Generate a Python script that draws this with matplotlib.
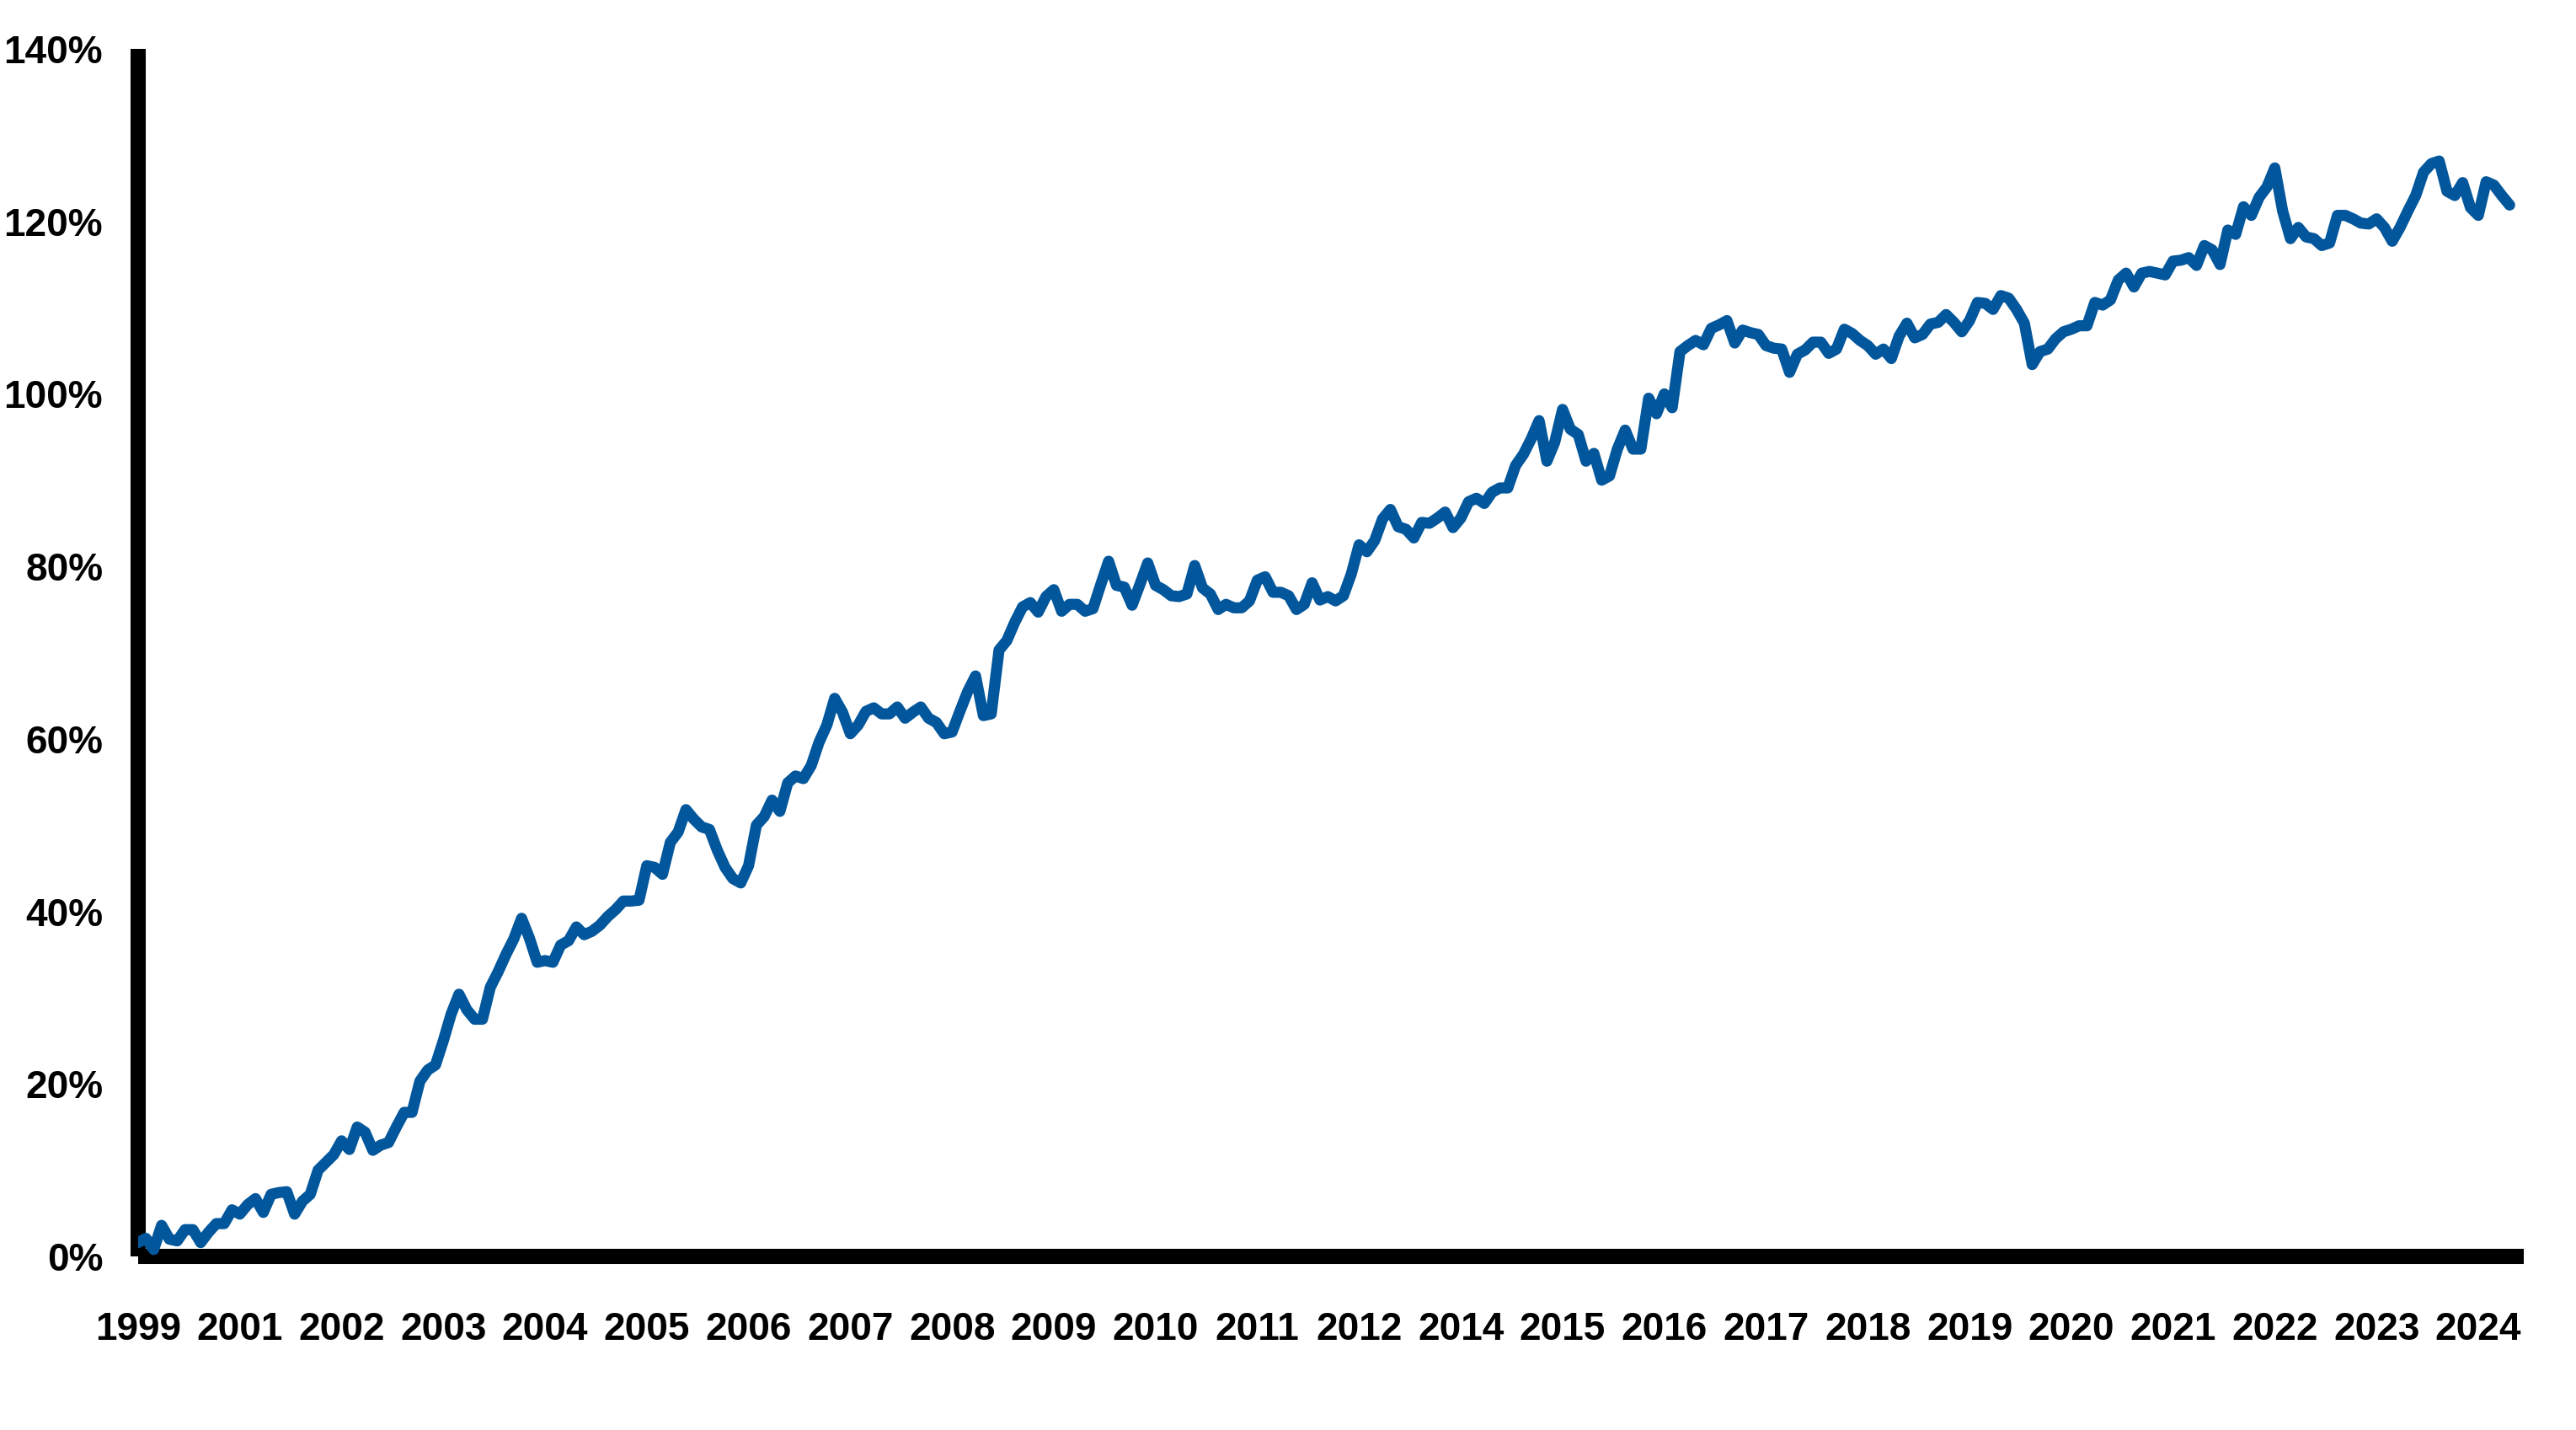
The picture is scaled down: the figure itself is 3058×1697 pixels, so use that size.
import matplotlib
matplotlib.use("Agg")
import matplotlib.pyplot as plt
import numpy as np

plt.rcParams["font.family"] = ["Liberation Sans", "DejaVu Sans"]
plt.rcParams["font.weight"] = "bold"

# monthly series, first point Dec 1999 (values in %)
values = [
    1.6, 2.1, 0.8, 3.6, 2.0, 1.8, 3.1, 3.1, 1.6, 2.8,
    3.8, 3.8, 5.4, 4.9, 6.0, 6.7, 5.1, 7.2, 7.4, 7.5,
    4.9, 6.4, 7.2, 10.0, 10.9, 11.8, 13.4, 12.4, 15.0, 14.4,
    12.3, 12.9, 13.2, 15.0, 16.7, 16.7, 20.3, 21.6, 22.2, 25.0,
    28.1, 30.4, 28.6, 27.5, 27.5, 31.2, 33.0, 35.0, 36.8, 39.2,
    36.9, 34.1, 34.3, 34.1, 36.1, 36.6, 38.2, 37.3, 37.7, 38.4,
    39.4, 40.2, 41.2, 41.2, 41.3, 45.3, 45.1, 44.3, 48.0, 49.2,
    51.8, 50.7, 49.8, 49.5, 47.1, 45.1, 43.8, 43.3, 45.3, 50.0,
    51.0, 52.9, 51.6, 54.9, 55.7, 55.4, 56.9, 59.6, 61.6, 64.7,
    63.1, 60.6, 61.6, 63.2, 63.6, 62.9, 62.9, 63.7, 62.4, 63.1,
    63.7, 62.4, 61.9, 60.6, 60.8, 63.2, 65.5, 67.3, 62.7, 62.9,
    70.3, 71.4, 73.5, 75.3, 75.8, 74.7, 76.5, 77.3, 74.8, 75.6,
    75.6, 74.8, 75.1, 77.9, 80.6, 77.8, 77.6, 75.5, 77.9, 80.4,
    77.8, 77.3, 76.6, 76.5, 76.8, 80.1, 77.5, 76.8, 75.0, 75.6,
    75.2, 75.2, 76.0, 78.4, 78.8, 77.0, 77.0, 76.6, 75.0, 75.6,
    78.1, 76.1, 76.5, 76.0, 76.6, 79.1, 82.5, 81.7, 83.0, 85.5,
    86.6, 84.6, 84.3, 83.3, 85.1, 85.0, 85.6, 86.3, 84.5, 85.6,
    87.5, 87.9, 87.3, 88.6, 89.1, 89.1, 91.7, 93.0, 94.8, 96.9,
    92.2, 94.4, 98.2, 95.9, 95.3, 92.2, 93.1, 90.0, 90.5, 93.6,
    95.8, 93.6, 93.6, 99.5, 97.7, 100.0, 98.4, 104.9, 105.6, 106.2,
    105.7, 107.6, 108.0, 108.5, 105.9, 107.4, 107.1, 106.9, 105.6, 105.3,
    105.2, 102.5, 104.6, 105.1, 106.0, 106.0, 104.7, 105.2, 107.5, 107.0,
    106.2, 105.6, 104.6, 105.2, 104.1, 106.7, 108.2, 106.5, 106.9, 108.1,
    108.3, 109.2, 108.3, 107.2, 108.5, 110.6, 110.5, 109.8, 111.4, 111.1,
    109.8, 108.2, 103.4, 104.9, 105.2, 106.4, 107.2, 107.5, 107.9, 107.9,
    110.6, 110.3, 110.9, 113.2, 114.0, 112.4, 114.0, 114.2, 114.0, 113.8,
    115.4, 115.5, 115.8, 114.9, 117.2, 116.7, 115.0, 119.0, 118.5, 121.7,
    120.7, 122.8, 124.0, 126.2, 121.2, 118.0, 119.3, 118.2, 118.0, 117.2,
    117.5, 120.7, 120.7, 120.3, 119.8, 119.7, 120.3, 119.3, 117.7, 119.3,
    121.2, 123.0, 125.7, 126.7, 127.0, 123.5, 123.0, 124.5, 121.6, 120.7,
    124.6, 124.2, 123.0, 121.9,
]

year_labels = ["1999", "2001", "2002", "2003", "2004", "2005", "2006", "2007",
               "2008", "2009", "2010", "2011", "2012", "2014", "2015", "2016",
               "2017", "2018", "2019", "2020", "2021", "2022", "2023", "2024"]
label_step = 13  # category axis labels every 13 points

y_ticks = [0, 20, 40, 60, 80, 100, 120, 140]

fig = plt.figure(figsize=(30.58, 16.97), dpi=100)
ax = fig.add_axes([0.0536, 0.1214, 0.9261, 0.8444])

x = np.arange(len(values))
ax.plot(x, values, color="#02569B", linewidth=9.5,
        solid_joinstyle="round", solid_capstyle="round", zorder=3)

ax.set_xlim(0, 304.8)
ax.set_ylim(0, 140)

ax.set_yticks(y_ticks)
ax.set_yticklabels([f"{t}%" for t in y_ticks])
ax.set_xticks(np.arange(len(year_labels)) * label_step)
ax.set_xticklabels(year_labels)

ax.tick_params(axis="y", length=0, pad=30, labelsize=33)
ax.tick_params(axis="x", length=0, pad=47, labelsize=33)
for lab in ax.get_xticklabels() + ax.get_yticklabels():
    lab.set_fontweight("bold")

ax.spines["right"].set_visible(False)
ax.spines["top"].set_visible(False)
ax.spines["left"].set_linewidth(13)
ax.spines["bottom"].set_linewidth(13)
ax.spines["left"].set_capstyle("butt")
ax.spines["bottom"].set_capstyle("butt")

fig.savefig("out.png", dpi=100, facecolor="white")
